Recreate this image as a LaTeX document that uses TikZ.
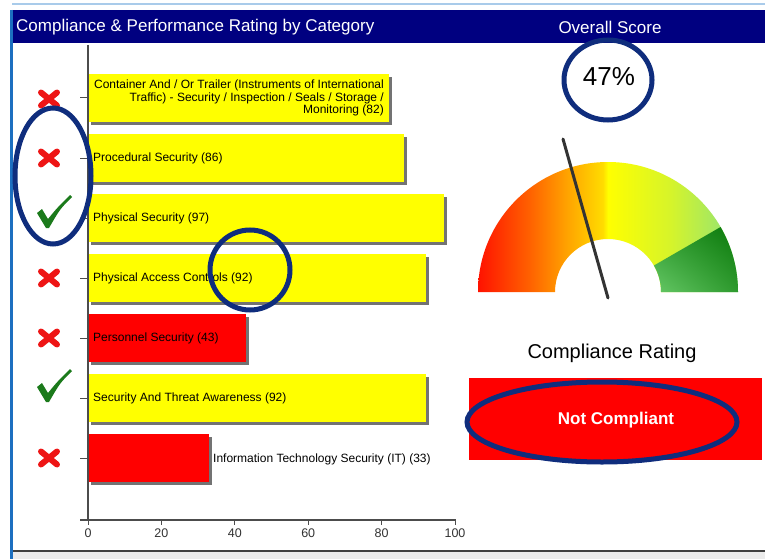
\documentclass[tikz,border=0pt]{standalone}
\usepackage{fontspec}
\setmainfont{Liberation Sans}
\usetikzlibrary{shadings}
\definecolor{navy}{HTML}{000080}
\definecolor{ann}{HTML}{0F2D7D}
\definecolor{barY}{HTML}{FFFF00}
\definecolor{barR}{HTML}{FF0000}
\definecolor{chk}{HTML}{1B7A1B}
\definecolor{xred}{HTML}{EE1515}
\definecolor{leftblue}{HTML}{1C6FC0}
\definecolor{topline}{HTML}{A9CBEA}
\definecolor{gR}{HTML}{FF1200}
\definecolor{gO1}{HTML}{FF6200}
\definecolor{gO2}{HTML}{FFA200}
\definecolor{gY1}{HTML}{FFDC00}
\definecolor{gY}{HTML}{FFFF00}
\definecolor{gYG}{HTML}{D6F42A}
\definecolor{gG}{HTML}{8CE27C}
\definecolor{dG}{HTML}{0A780A}
\definecolor{mG}{HTML}{2E9A2E}
\definecolor{lG}{HTML}{66C866}
\pgfdeclarehorizontalshading{gaugesh}{100bp}{color(0bp)=(gR); color(25bp)=(gR); color(35bp)=(gO1); color(42bp)=(gO2); color(49bp)=(gY1); color(50bp)=(gY); color(62bp)=(gYG); color(75bp)=(gG); color(100bp)=(gG)}
\begin{document}
\begin{tikzpicture}[x=1pt,y=-1pt,
  hdr/.style={text=white, font=\fontsize{17}{20}\selectfont, inner sep=0pt},
  barlbl/.style={font=\fontsize{12}{12.5}\selectfont, inner sep=0pt, text=black},
  ticklbl/.style={font=\fontsize{12.5}{14}\selectfont, inner sep=0pt, text=black!80},
  annot/.style={draw=ann, line width=5},
  axisline/.style={draw=black!70, line width=1.3},
  xmk/.pic={\draw[xred, line width=6, line cap=round] (-8,-6.5) -- (8,6.5) (-8,6.5) -- (8,-6.5);},
  chkmk/.pic={\fill[chk] (-18,1) -- (-13,-3) -- (-7,7) .. controls (2,-4) .. (15,-17) -- (17,-15) .. controls (5,-3) .. (-6,16) -- (-9,16) -- cycle;}
]
\useasboundingbox (0,0) rectangle (765,559);
\fill[white] (0,0) rectangle (765,559);
% frame
\draw[topline, line width=2] (12,4) -- (765,4);
\fill[navy] (12,10) rectangle (765,43);
\draw[leftblue, line width=3] (11.5,10) -- (11.5,559);
\fill[black!8] (13,551) rectangle (765,559);
\draw[black!75, line width=2] (13,551) -- (765,551);
\node[hdr, anchor=west] (title) at (16,27) {Compliance \& Performance Rating by Category};
\node[hdr] (overall) at (610,27) {Overall Score};
% bars
\foreach \yc/\val/\col in {98/82/barY, 158/86/barY, 218/97/barY, 278/92/barY, 338/43/barR, 398/92/barY, 458/33/barR}{
  \pgfmathsetmacro\xe{88+\val*3.67}
  \fill[black!55] (91,\yc-21) rectangle (\xe+3,\yc+27);
  \fill[\col] (88,\yc-24) rectangle (\xe,\yc+24);
  \draw[black!70, line width=1] (80,\yc) -- (88,\yc);
}
% axes
\draw[axisline] (88,45) -- (88,520);
\draw[axisline] (80,520) -- (456,520);
\foreach \v [count=\i] in {0,20,40,60,80,100}{
  \draw[black!70, line width=1] (88+\v*3.67,520) -- (88+\v*3.67,525);
  \node[ticklbl] (t\i) at (88+\v*3.67,533) {\v};
}
% bar labels
\node[barlbl, anchor=east, align=right] (l1) at (384,98) {Container And / Or Trailer (Instruments of International\\Traffic) - Security / Inspection / Seals / Storage /\\Monitoring (82)};
\node[barlbl, anchor=west] (l2) at (93,158) {Procedural Security (86)};
\node[barlbl, anchor=west] (l3) at (93,218) {Physical Security (97)};
\node[barlbl, anchor=west] (l4) at (93,278) {Physical Access Controls (92)};
\node[barlbl, anchor=west] (l5) at (93,338) {Personnel Security (43)};
\node[barlbl, anchor=west] (l6) at (93,398) {Security And Threat Awareness (92)};
\node[barlbl, anchor=west] (l7) at (213,459) {Information Technology Security (IT) (33)};
% icons
\pic at (49,99) {xmk};
\pic at (49,158) {xmk};
\pic at (55,212) {chkmk};
\pic at (49,278) {xmk};
\pic at (49,338) {xmk};
\pic at (55,386) {chkmk};
\pic at (49,458) {xmk};
% gauge
\begin{scope}[shift={(608,292)}, y=1pt]
  \shade[shading=gaugesh] (180:130) arc[start angle=180, end angle=0, radius=130] -- (0:53) arc[start angle=0, end angle=180, radius=53] -- cycle;
  \shade[upper right=dG, lower left=lG, upper left=mG, lower right=mG] (0:130) arc[start angle=0, end angle=30, radius=130] -- (30:53) arc[start angle=30, end angle=0, radius=53] -- cycle;
\end{scope}
\coordinate (ntip) at (563,139);
\coordinate (nbase) at (608,298);
\draw[black!80, line width=3, line cap=round] (ntip) -- (nbase);
% score and rating
\node[font=\fontsize{26}{30}\selectfont, inner sep=0pt] (score) at (609,77) {47\%};
\node[font=\fontsize{20}{24}\selectfont, inner sep=0pt] (crlbl) at (612,353) {Compliance Rating};
\fill[barR] (469,378) rectangle (762,460);
\node[font=\bfseries\fontsize{17}{20}\selectfont, text=white, inner sep=0pt] (nc) at (616,420) {Not Compliant};
% annotations
\draw[annot] (53,176) ellipse [x radius=38, y radius=68];
\draw[annot] (250,270) ellipse [x radius=40, y radius=40];
\draw[annot] (608,80) ellipse [x radius=44, y radius=40];
\draw[annot] (602,422) ellipse [x radius=135, y radius=40];
\end{tikzpicture}
\end{document}
